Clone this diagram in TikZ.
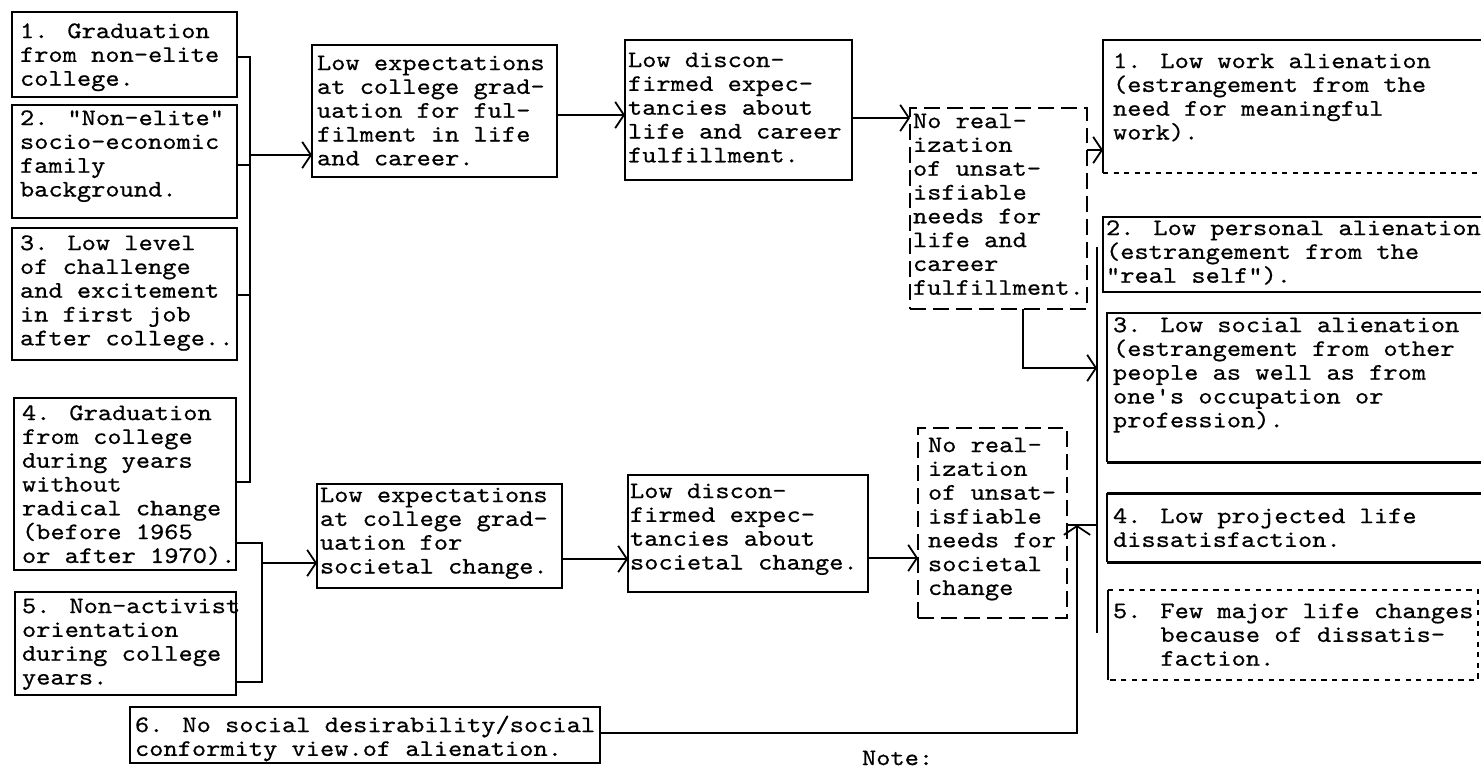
\documentclass[tikz,border=0pt]{standalone}
\usepackage{fontspec}
\usetikzlibrary{arrows.meta,fit}
\newfontfamily\twface{lmmono10-regular}[Extension=.otf, FakeStretch=1.143, FakeBold=0.6]
\newcommand\twfont{\twface\fontsize{13.5pt}{13.55pt}\selectfont\lineskiplimit=-100pt\lineskip=0pt}
\newcommand\st{\rule{0pt}{12pt}}
\tikzset{
  px/.style={x=0.02cm,y=-0.02cm},
  txt/.style={anchor=north west, inner sep=0pt, outer sep=0pt, align=left, font=\twfont},
  frame/.style={draw, line width=1pt, inner sep=0pt, outer sep=0pt},
  dframe/.style={draw, line width=1pt, dash pattern=on 9pt off 4pt, inner sep=0pt, outer sep=0pt},
  noframe/.style={inner sep=0pt, outer sep=0pt},
  wire/.style={line width=1pt},
  heavy/.style={line width=1.7pt},
  arr/.style={wire, -{Straight Barb[length=5pt,width=15pt]}},
}
\newcommand\mkbox[6][frame]{\path (#3,#4) coordinate (#2-a) (#5,#6) coordinate (#2-b);
  \node[#1, fit=(#2-a)(#2-b)] (#2) {};}
\begin{document}
\begin{tikzpicture}[px]
\useasboundingbox (0,0) rectangle (1481,768);
% ---------- boxes ----------
\mkbox{b1}{12}{12}{237}{97}
\mkbox{b2}{12}{105}{237}{218}
\mkbox{b3}{12}{228}{237}{360}
\mkbox{b4}{14}{398}{236}{570}
\mkbox{b5}{15}{592}{236}{695}
\mkbox{b6}{130}{707}{600}{763}
\mkbox{e1}{312}{45}{557}{177}
\mkbox{d1}{625}{40}{852}{180}
\mkbox[dframe]{n1}{910}{108}{1087}{309}
\mkbox{e2}{317}{484}{562}{588}
\mkbox{d2}{628}{475}{868}{592}
\mkbox[dframe]{n2}{918}{428}{1067}{618}
\mkbox[noframe]{o1}{1103}{40}{1495}{173}
\mkbox[noframe]{o2}{1103}{217}{1495}{292}
\mkbox[noframe]{o3}{1107}{313}{1495}{462}
\mkbox[noframe]{o4}{1107}{493}{1495}{562}
\mkbox[noframe]{o5}{1108}{590}{1478}{680}
\draw[wire] (o1.north east) -- (o1.north west) -- (o1.south west);
\draw[wire,dashed] (o1.south west) -- (o1.south east);
\draw[wire] (o2.north east) -- (o2.north west) -- (o2.south west) -- (o2.south east);
\draw[wire] (o3.north east) -- (o3.north west) -- (o3.south west);
\draw[heavy] (o3.south west) -- (o3.south east);
\draw[heavy] (o4.north east) -- (o4.north west);
\draw[wire] (o4.north west) -- (o4.south west);
\draw[heavy] (o4.south west) -- (o4.south east);
\draw[wire] (o5.north west) -- (o5.south west);
\draw[wire,dashed] (o5.north west) -- (o5.north east) -- (o5.south east) -- (o5.south west);
% ---------- texts ----------
\node[txt] (b1t) at (20,17) {\st 1. Graduation\\from non-elite\\college.};
\node[txt] (b2t) at (20,104) {\st 2. "Non-elite"\\socio-economic\\family\\background.};
\node[txt] (b3t) at (20,229) {\st 3. Low level\\of challenge\\and excitement\\in first job\\after college..};
\node[txt] (b4t) at (22,399) {\st 4. Graduation\\from college\\during years\\without\\radical change\\(before 1965\\or after 1970).};
\node[txt] (b5t) at (22,592) {\st 5. Non-activist\\orientation\\during college\\years.};
\node[txt] (b6t) at (135,711) {\st 6. No social desirability/social\\conformity view.of alienation.};
\node[txt] (e1t) at (317,49) {\st Low expectations\\at college grad-\\uation for ful-\\filment in life\\and career.};
\node[txt] (d1t) at (628,46) {\st Low discon-\\firmed expec-\\tancies about\\life and career\\fulfillment.};
\node[txt] (n1t) at (913,107) {\st No real-\\ization\\of unsat-\\isfiable\\needs for\\life and\\career\\fulfillment.};
\node[txt] (e2t) at (320,481) {\st Low expectations\\at college grad-\\uation for\\societal change.};
\node[txt] (d2t) at (630,477) {\st Low discon-\\firmed expec-\\tancies about\\societal change.};
\node[txt] (n2t) at (928,431) {\st No real-\\ization\\of unsat-\\isfiable\\needs for\\societal\\change};
\node[txt] (o1t) at (1113,47) {\st 1. Low work alienation\\(estrangement from the\\need for meaningful\\work).};
\node[txt] (o2t) at (1106,214) {\st 2. Low personal alienation\\(estrangement from the\\"real self").};
\node[txt] (o3t) at (1113,311) {\st 3. Low social alienation\\(estrangement from other\\people as well as from\\one's occupation or\\profession).};
\node[txt] (o4t) at (1113,502) {\st 4. Low projected life\\dissatisfaction.};
\node[txt] (o5t) at (1113,597) {\st 5. Few major life changes\\\phantom{5. }because of dissatis-\\\phantom{5. }faction.};
\node[txt] (note) at (862,744) {\st Note:};
% ---------- connectors ----------
\coordinate (L1top) at (250,57);
\coordinate (L1b2) at (250,165);
\coordinate (L1b3) at (250,295);
\coordinate (L1bot) at (250,482);
\coordinate (L1out) at (250,155);
\draw[wire] (b1.east |- L1top) -- (L1top) -- (L1bot) -- (b4.east |- L1bot);
\draw[wire] (b2.east |- L1b2) -- (L1b2);
\draw[wire] (b3.east |- L1b3) -- (L1b3);
\draw[arr] (L1out) -- (e1.west |- L1out);
\coordinate (L2top) at (262,543);
\coordinate (L2bot) at (262,682);
\coordinate (L2out) at (262,563);
\draw[wire] (b4.east |- L2top) -- (L2top) -- (L2bot) -- (b5.east |- L2bot);
\draw[arr] (L2out) -- (e2.west |- L2out);
\draw[arr] (e1.east |- 0,115) -- (d1.west |- 0,115);
\draw[arr] (d1.east |- 0,118) -- (n1.west |- 0,118);
\draw[arr] (n1.east |- 0,150) -- (o1.west |- 0,150);
\coordinate (Rtop) at (1097,247);
\coordinate (Rbot) at (1097,633);
\coordinate (R3) at (1097,368);
\coordinate (R4) at (1097,525);
\coordinate (J6) at (1077,525);
\draw[wire] (Rtop) -- (Rbot);
\draw[arr] (n1.south -| 1023,0) |- (R3);
\draw[arr] (e2.east |- 0,559) -- (d2.west |- 0,559);
\draw[arr] (d2.east |- 0,558) -- (n2.west |- 0,558);
\draw[wire] (n2.east |- R4) -- (R4);
\draw[arr] (b6.east |- 0,733) -| (J6);
\end{tikzpicture}
\end{document}
